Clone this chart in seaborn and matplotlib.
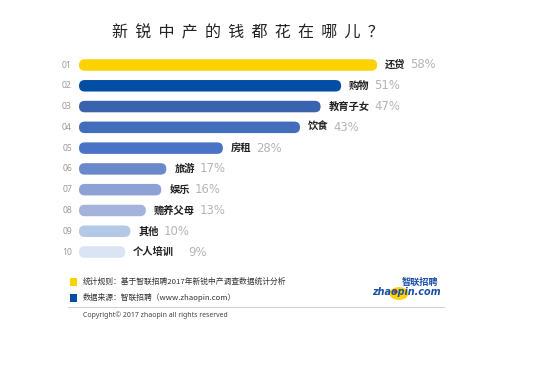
import matplotlib
matplotlib.use('Agg')
import matplotlib.pyplot as plt
import seaborn as sns
import pandas as pd
from matplotlib.patches import FancyBboxPatch, Rectangle, Circle
from matplotlib.lines import Line2D

ranks = ['01', '02', '03', '04', '05', '06', '07', '08', '09', '10']
categories = ['还贷', '购物', '教育子女', '饮食', '房租', '旅游', '娱乐', '赡养父母', '其他', '个人培训']
values = [58, 51, 47, 43, 28, 17, 16, 13, 10, 9]
colors = ['#FED100', '#034EA2', '#3A63AD', '#416DBB', '#4873C6',
          '#6A88CA', '#8DA1D4', '#A3B3DC', '#B4C8E8', '#DAE4F4']
title = '新锐中产的钱都花在哪儿？'
note1 = '统计规则：基于智联招聘2017年新锐中产调查数据统计分析'
note2 = '数据来源：智联招聘（www.zhaopin.com）'
copyright_txt = 'Copyright© 2017 zhaopin all rights reserved'

sns.set_theme(style='white')
plt.rcParams['font.family'] = ['Noto Sans CJK SC', 'DejaVu Sans']

W, H = 550, 369
fig = plt.figure(figsize=(W / 100, H / 100), dpi=100)
fig.patch.set_facecolor('white')
ax = fig.add_axes([0, 0, 1, 1])

df = pd.DataFrame({'cat': categories, 'val': values})
bar_h = 0.553
sns.barplot(data=df, x='val', y='cat', hue='cat', palette=colors, legend=False,
            orient='h', width=bar_h, saturation=1, ax=ax)

# pixel geometry
x0_px, px_per_unit = 79.0, 5.14
y0_px, px_per_cat = 65.0, 20.78
ax.set_xlim(-x0_px / px_per_unit, (W - x0_px) / px_per_unit)
ax.set_ylim((H - y0_px) / px_per_cat, -y0_px / px_per_cat)
ax.axis('off')

xu_per_px = 1 / px_per_unit
yu_per_px = 1 / px_per_cat
aspect = yu_per_px / xu_per_px
r = (bar_h / 2) / aspect

for p in list(ax.patches):
    x, y, w, h = p.get_x(), p.get_y(), p.get_width(), p.get_height()
    fc = p.get_facecolor()
    p.remove()
    fb = FancyBboxPatch((x, y), w, h, boxstyle=f'round,pad=0,rounding_size={r}',
                        mutation_aspect=aspect, fc=fc, ec='none', zorder=3)
    ax.add_patch(fb)

for i, (rk, cat, v) in enumerate(zip(ranks, categories, values)):
    ax.text(-7 / px_per_unit, i, rk, ha='right', va='center', fontsize=6.2,
            color='#9a9a9a', family=['Noto Sans', 'DejaVu Sans'])
    t = ax.text(v + 8 / px_per_unit, i, cat, ha='left', va='center', fontsize=7.4,
                fontweight='bold', color='#222222')
    gap = 10 if v < 10 else 3.5
    ax.annotate(f'{v}%', xy=(1, 0.5), xycoords=t, xytext=(gap, 0),
                textcoords='offset points', ha='left', va='center',
                fontsize=8.4, color='#b4b4b4', family=['DejaVu Sans'])


def fx(px):
    return px / W


def fy(py):
    return 1 - py / H


fig.text(fx(248), fy(32.5), '  '.join(title), ha='center', va='center',
         fontsize=11.5, color='#222222')

# footer
fig.patches.append(Rectangle((fx(69.5), fy(286)), 7.5 / W, 8 / H, transform=fig.transFigure,
                             fc='#FED100', ec='none'))
fig.patches.append(Rectangle((fx(69.5), fy(301.5)), 7.5 / W, 8 / H, transform=fig.transFigure,
                             fc='#034EA2', ec='none'))
fig.text(fx(83), fy(282), note1, ha='left', va='center', fontsize=5.6, color='#333333')
fig.text(fx(83), fy(297.5), note2, ha='left', va='center', fontsize=5.6, color='#333333')
fig.lines.append(Line2D([fx(68), fx(444)], [fy(306.7), fy(306.7)], transform=fig.transFigure,
                        color='#d0d0d0', lw=0.8))
fig.text(fx(83), fy(315.5), copyright_txt, ha='left', va='center', fontsize=5.0,
         color='#444444', family=['Noto Sans', 'DejaVu Sans'])

# logo
fig.patches.append(Circle((fx(399), fy(293.5)), 9.5 / W, transform=fig.transFigure,
                          fc='#FFD200', ec='none'))
fig.patches.append(Circle((fx(395.5), fy(291.8)), 2.2 / W, transform=fig.transFigure,
                          fc='#D9282F', ec='none'))
fig.text(fx(406), fy(292.3), 'zhaopin.com', ha='center', va='center', fontsize=6.9,
         fontweight='bold', fontstyle='italic', color='#1a4fa8',
         family=['DejaVu Sans'])
fig.text(fx(419.5), fy(282.6), '智联招聘', ha='center', va='center', fontsize=6.6,
         fontweight='bold', color='#1a4fa8')

fig.savefig('out.png', dpi=100, facecolor='white')
